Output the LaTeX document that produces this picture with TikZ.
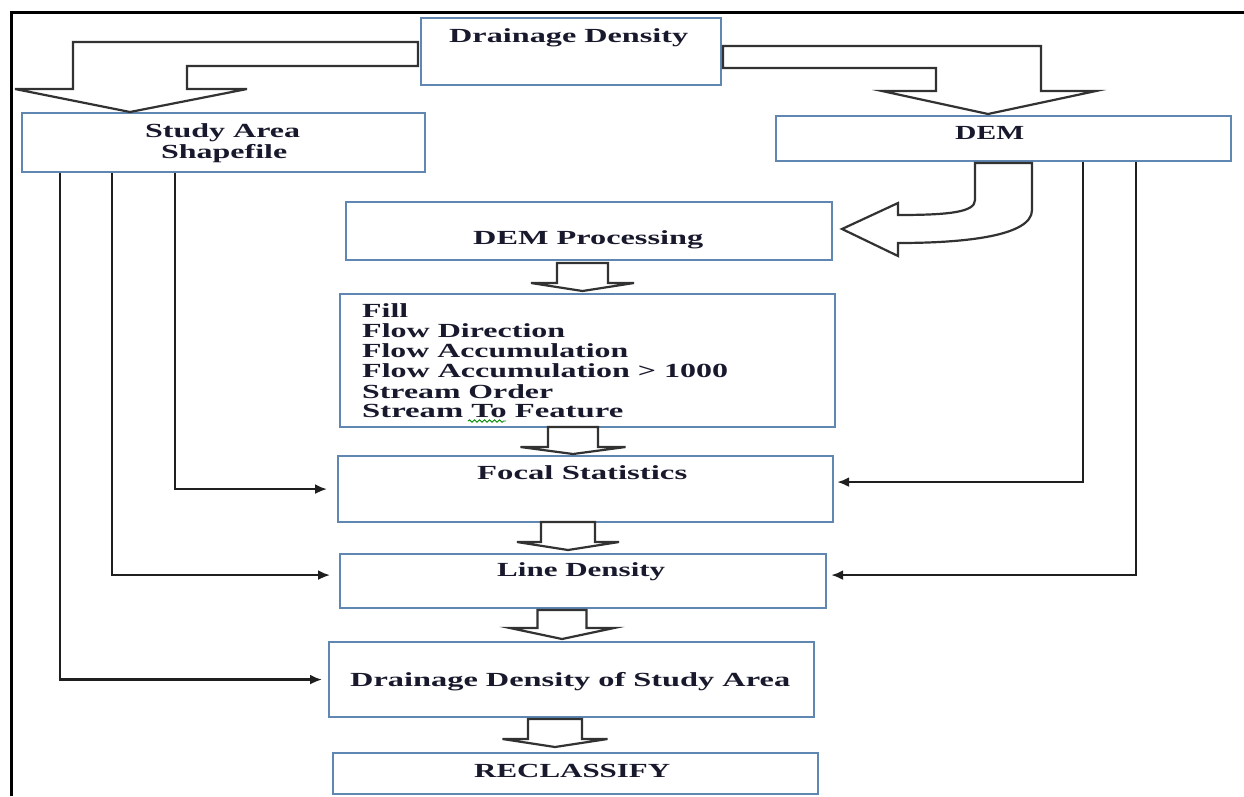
\documentclass[tikz,border=0pt]{standalone}
\usepackage{fontspec}
\setmainfont{Liberation Serif}
\usetikzlibrary{arrows.meta,decorations.pathmorphing}
\definecolor{boxc}{RGB}{96,134,178}
\definecolor{inkc}{RGB}{25,25,45}
\definecolor{blkc}{RGB}{50,50,50}
% bold label stretched to a given width, natural height kept
\newcommand\wtxt[2]{\resizebox{#1pt}{\height}{#2}}
% hollow downward block arrow: centre x, shaft top, head base, tip, shaft half width, head half width
\newcommand\blockdown[6]{%
  \draw[blk] (#1-#5,#2) -- (#1-#5,#3) -- (#1-#6,#3) -- (#1,#4) -- (#1+#6,#3)
    -- (#1+#5,#3) -- (#1+#5,#2) -- cycle;}
\begin{document}
\begin{tikzpicture}[x=1pt,y=-1pt,
  box/.style={draw=boxc, line width=2.2pt, fill=white, inner sep=0pt, anchor=north west},
  lbl/.style={inner sep=0pt, anchor=base west, text=inkc,
    font=\fontsize{20}{20}\selectfont\bfseries},
  conn/.style={draw=black!88, line width=2.3pt, -{Latex[length=12pt,width=10pt]}},
  blk/.style={draw=blkc, line width=2.2pt, fill=white, line join=miter}]
\useasboundingbox (0,0) rectangle (1244,796);
\fill[white] (0,0) rectangle (1244,796);

% frame
\draw[line width=3pt] (11,796) -- (11,12) -- (1244,12);

% boxes
\node[box, minimum width=300pt, minimum height=67pt] (dd) at (420,17) {};
\node[box, minimum width=403pt, minimum height=59pt] (sa) at (21,112) {};
\node[box, minimum width=455pt, minimum height=45pt] (dem) at (775,115) {};
\node[box, minimum width=486pt, minimum height=58pt] (dp) at (345,201) {};
\node[box, minimum width=495pt, minimum height=133pt] (tools) at (339,293) {};
\node[box, minimum width=495pt, minimum height=66pt] (fs) at (337,455) {};
\node[box, minimum width=486pt, minimum height=54pt] (ld) at (339,553) {};
\node[box, minimum width=485pt, minimum height=75pt] (ddsa) at (328,641) {};
\node[box, minimum width=485pt, minimum height=41pt] (rc) at (332,752) {};

% labels
\node[lbl] (dd-t) at (449,42) {\wtxt{239}{Drainage Density}};
\node[lbl] (sa-t1) at (145,137) {\wtxt{155}{Study Area}};
\node[lbl] (sa-t2) at (161,158) {\wtxt{126}{Shapefile}};
\node[lbl] (dem-t) at (955,139) {\wtxt{69}{DEM}};
\node[lbl] (dp-t) at (473,244) {\wtxt{230}{DEM Processing}};
\node[lbl] (tl1) at (362,317) {\wtxt{46}{Fill}};
\node[lbl] (tl2) at (362,337) {\wtxt{203}{Flow Direction}};
\node[lbl] (tl3) at (362,357) {\wtxt{266}{Flow Accumulation}};
\node[lbl] (tl4) at (362,377) {\wtxt{366}{Flow Accumulation > 1000}};
\node[lbl] (tl5) at (362,398) {\wtxt{191}{Stream Order}};
\node[lbl] (tl6) at (362,417) {\wtxt{261}{Stream To Feature}};
\draw[green!55!black, line width=0.9pt, decorate,
  decoration={snake, amplitude=1.2pt, segment length=5pt}] (468,421) -- (506,421);
\node[lbl] (fs-t) at (477,479) {\wtxt{210}{Focal Statistics}};
\node[lbl] (ld-t) at (497,576) {\wtxt{168}{Line Density}};
\node[lbl] (ddsa-t) at (350,686) {\wtxt{440}{Drainage Density of Study Area}};
\node[lbl] (rc-t) at (474,777) {\wtxt{196}{RECLASSIFY}};

% split block arrow from the top box to both inputs
\draw[blk] (418,42) -- (73,42) -- (73,89) -- (15,89) -- (130,112) -- (247,89)
  -- (187,89) -- (187,66) -- (418,66) -- cycle;
\draw[blk] (723,46) -- (1041,46) -- (1041,91) -- (1096,91) -- (988,114) -- (882,91)
  -- (936,91) -- (936,68) -- (723,68) -- cycle;

% curved block arrow DEM -> DEM Processing
\draw[blk] (975,163) -- (1032,163) -- (1032,210)
  .. controls (1032,236) and (965,243) .. (898,243)
  -- (898,256) -- (842,229) -- (898,203) -- (898,215)
  .. controls (950,215) and (975,212) .. (975,200) -- cycle;

% vertical block arrows down the main chain
\blockdown{582.5}{263}{283}{291}{25.5}{51.5}
\blockdown{573}{427}{447}{454}{25}{52.5}
\blockdown{568}{522}{542}{550}{27}{51}
\blockdown{562}{610}{628}{639}{24.5}{52}
\blockdown{555}{719}{739}{747}{27}{52.5}

% study area feeds
\draw[conn, shorten >=10pt] ([xshift=154pt]sa.south west) |- (fs.west);
\draw[conn, shorten >=9pt] ([xshift=91pt]sa.south west) |- ([yshift=6pt]ld.west);
\draw[conn, shorten >=6pt] ([xshift=39pt]sa.south west) |- (ddsa.west);

% DEM feeds
\draw[conn, shorten >=3pt] ([xshift=308pt]dem.south west) |- ([yshift=7pt]fs.east);
\draw[conn, shorten >=4pt] ([xshift=361pt]dem.south west) |- ([yshift=6pt]ld.east);
\end{tikzpicture}
\end{document}
